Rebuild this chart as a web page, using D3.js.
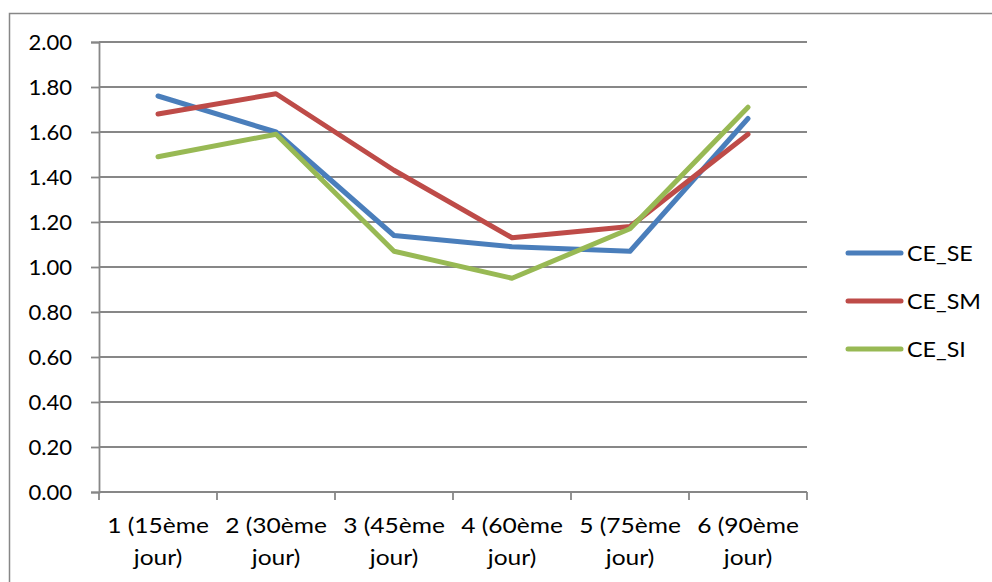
<!DOCTYPE html>
<html>
<head>
<meta charset="utf-8">
<script src="https://cdn.jsdelivr.net/npm/d3@7"></script>
<style>
  html, body { margin: 0; padding: 0; background: #fff; }
  svg text { font-family: Lato, "Open Sans", sans-serif; fill: #000; }
</style>
</head>
<body>
<svg id="chart" width="992" height="582"></svg>
<script>
// Categories (sampling days) and series values
const categories = [
  ["1 (15ème", "jour)"],
  ["2 (30ème", "jour)"],
  ["3 (45ème", "jour)"],
  ["4 (60ème", "jour)"],
  ["5 (75ème", "jour)"],
  ["6 (90ème", "jour)"]
];
const seriesNames = ["CE_SE", "CE_SM", "CE_SI"];
const ceSE = [1.76, 1.60, 1.14, 1.09, 1.07, 1.66];
const ceSM = [1.68, 1.77, 1.43, 1.13, 1.18, 1.59];
const ceSI = [1.49, 1.59, 1.07, 0.95, 1.17, 1.71];
const seriesColors = ["#4a7ebb", "#be4b48", "#98b954"];
const yTicks = [0, 0.2, 0.4, 0.6, 0.8, 1.0, 1.2, 1.4, 1.6, 1.8, 2.0];

const series = [ceSE, ceSM, ceSI].map((values, i) => ({
  name: seriesNames[i], values, color: seriesColors[i]
}));

const svg = d3.select("#chart");
const plot = { left: 99, right: 807, top: 42, bottom: 492 };
const gridColor = "#878787";

// Outer chart frame
svg.append("rect")
  .attr("x", 9.5).attr("y", 13.5)
  .attr("width", 1000).attr("height", 600)
  .attr("fill", "none").attr("stroke", gridColor).attr("stroke-width", 1.5);

const x = d3.scaleBand()
  .domain(d3.range(categories.length))
  .range([plot.left, plot.right])
  .paddingInner(0).paddingOuter(0);

const y = d3.scaleLinear().domain([0, 2]).range([plot.bottom, plot.top]);

// Horizontal gridlines
svg.append("g")
  .selectAll("line")
  .data(yTicks.filter(t => t > 0))
  .join("line")
  .attr("x1", plot.left).attr("x2", plot.right)
  .attr("y1", d => y(d)).attr("y2", d => y(d))
  .attr("stroke", gridColor).attr("stroke-width", 1.8);

// Y axis
const yAxis = svg.append("g")
  .attr("transform", `translate(${plot.left},0)`)
  .call(d3.axisLeft(y).tickValues(yTicks).tickFormat(d3.format(".2f")).tickSize(8));
yAxis.select(".domain").attr("stroke", gridColor).attr("stroke-width", 1.8);
yAxis.selectAll(".tick line").attr("stroke", gridColor).attr("stroke-width", 1.8);
yAxis.selectAll(".tick text")
  .attr("x", 0)
  .attr("transform", "translate(-27,0) scale(1.05,1)")
  .attr("font-size", 21).attr("fill", "#000").attr("dy", "0.36em")
  .attr("font-family", "Lato, sans-serif");

// X axis with tick marks at category boundaries
const xAxisG = svg.append("g").attr("transform", `translate(0,${plot.bottom})`);
xAxisG.append("line")
  .attr("x1", plot.left).attr("x2", plot.right)
  .attr("stroke", gridColor).attr("stroke-width", 1.8);
const boundaries = d3.range(categories.length + 1).map(i =>
  i < categories.length ? x(i) : x(categories.length - 1) + x.bandwidth());
xAxisG.selectAll("line.tick")
  .data(boundaries)
  .join("line")
  .attr("class", "tick")
  .attr("x1", d => d).attr("x2", d => d)
  .attr("y1", 0).attr("y2", 8)
  .attr("stroke", gridColor).attr("stroke-width", 1.8);

const catLabels = xAxisG.selectAll("text")
  .data(categories)
  .join("text")
  .attr("text-anchor", "middle")
  .attr("font-size", 21)
  .attr("transform", (d, i) => `translate(${x(i) + x.bandwidth() / 2},0) scale(1.17,1)`);
catLabels.selectAll("tspan")
  .data(d => d)
  .join("tspan")
  .attr("x", 0)
  .attr("y", (d, i) => 41 + i * 32)
  .text(d => d);

// Series lines
const line = d3.line()
  .x((d, i) => x(i) + x.bandwidth() / 2)
  .y(d => y(d));

svg.append("g")
  .selectAll("path")
  .data(series)
  .join("path")
  .attr("d", d => line(d.values))
  .attr("fill", "none")
  .attr("stroke", d => d.color)
  .attr("stroke-width", 5)
  .attr("stroke-linejoin", "round")
  .attr("stroke-linecap", "round");

// Legend
const legend = svg.append("g").attr("transform", "translate(847,253)");
const items = legend.selectAll("g")
  .data(series)
  .join("g")
  .attr("transform", (d, i) => `translate(0,${i * 48})`);
items.append("line")
  .attr("x1", 1).attr("x2", 54)
  .attr("stroke", d => d.color).attr("stroke-width", 5)
  .attr("stroke-linecap", "round");
items.append("text")
  .attr("transform", "translate(60,0) scale(1.11,1)")
  .attr("dy", "0.36em")
  .attr("font-size", 21)
  .text(d => d.name);
</script>
</body>
</html>
